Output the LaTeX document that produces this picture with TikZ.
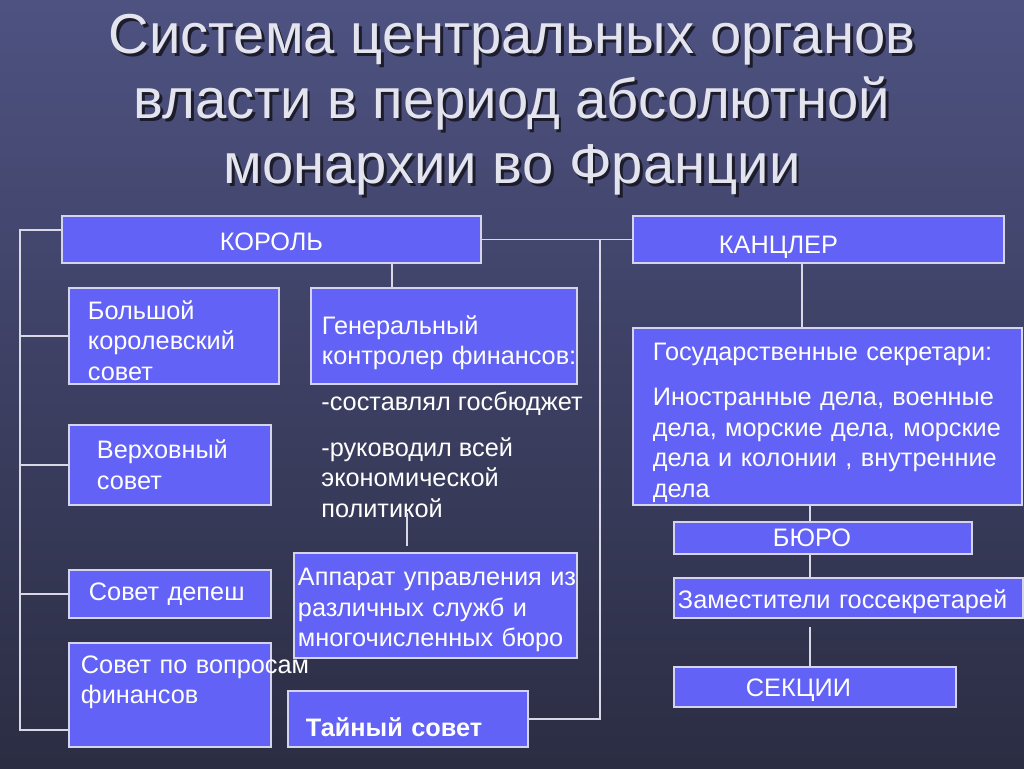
\documentclass[tikz,border=0pt]{standalone}
\usepackage{fontspec}
\setmainfont{Liberation Sans}
\definecolor{bgtop}{HTML}{4E5281}
\definecolor{bgbot}{HTML}{2B2D43}
\definecolor{boxblue}{HTML}{6262F6}
\definecolor{boxline}{HTML}{D4D4EC}
\definecolor{linkline}{HTML}{D8D8E6}
\definecolor{titletext}{HTML}{E4E4EE}
\definecolor{titleshade}{HTML}{1C1C2C}
\newcommand\shadowed[1]{\makebox[0pt][l]{\hspace{1.6pt}\raisebox{-1.6pt}{\color{titleshade}#1}}#1}
\newcommand\dropby[1]{\rule{0pt}{#1}}
\begin{document}
\begin{tikzpicture}[x=0.02cm,y=-0.02cm,
    boxsize/.code n args={3}{%
      \pgfmathsetlengthmacro\boxw{#1*0.02cm}%
      \pgfmathsetlengthmacro\boxh{#2*0.02cm}%
      \pgfmathsetlengthmacro\boxp{#3*0.02cm}%
      \pgfmathsetlengthmacro\boxt{(#1-2*#3)*0.02cm}%
      \edef\boxset{\noexpand\pgfkeysalso{minimum width=\boxw, minimum height=\boxh,
        inner xsep=\boxp, text width=\boxt}}%
      \boxset},
    organ/.style n args={3}{rectangle, draw=boxline, fill=boxblue, line width=1.1pt,
      text=white, anchor=north west, align=left, inner ysep=0pt,
      font=\fontsize{14.4}{17.5}\selectfont, boxsize={#1}{#2}{#3}},
    note/.style={text=white, anchor=north west, align=left, inner sep=0pt,
      font=\fontsize{14.4}{17.5}\selectfont},
    heading/.style={align=center, text=titletext, font=\fontsize{32}{37}\selectfont},
    link/.style={draw=linkline, line width=1.1pt}]
  \path[use as bounding box, top color=bgtop, bottom color=bgbot] (0,0) rectangle (1024,768);

  \node[heading] (title) at (512,106)
    {\shadowed{Система центральных органов}\\\shadowed{власти в период абсолютной}\\\shadowed{монархии во Франции}};

  \node[organ={419}{47}{0}, align=center] (korol) at (61,215) {\dropby{12.7pt}КОРОЛЬ};
  \node[organ={371}{47}{86}] (kancler) at (632,215) {\dropby{19.4pt}КАНЦЛЕР};
  \node[organ={210}{96}{19}] (bolshoy) at (68,287) {\dropby{16pt}Большой\\королевский\\совет};
  \node[organ={266}{96}{11}] (genkontr) at (310,287) {\dropby{18.4pt}Генеральный\\\mbox{контролер финансов:}};
  \node[organ={202}{80}{28}] (verkh) at (68,424) {Верховный\\совет};
  \node[organ={202}{48}{20}] (depesh) at (68,569) {Совет депеш};
  \node[organ={202}{104}{12}] (finans) at (68,642) {\mbox{Совет по вопросам}\\финансов\\ \mbox{}};
  \node[organ={240}{56}{18}, font=\bfseries\fontsize{14.4}{17.5}\selectfont] (tayny) at (287,690)
    {\dropby{20.6pt}Тайный совет};
  \node[organ={283}{105}{4}] (apparat) at (293,552)
    {\dropby{15pt}\mbox{Аппарат управления из}\\различных служб и\\\mbox{многочисленных бюро}};
  \node[organ={389}{177}{20}] (gossek) at (632,327)
    {\dropby{17.2pt}Государственные секретари:\\[8pt]\mbox{Иностранные дела, военные}\\\mbox{дела, морские дела, морские}\\\mbox{дела и колонии , внутренние}\\дела};
  \node[organ={298}{32}{99}] (buro) at (673,521) {БЮРО};
  \node[organ={349}{40}{4}] (zam) at (673,577) {\dropby{15pt}\mbox{Заместители госсекретарей}};
  \node[organ={282}{40}{72}] (sekcii) at (673,666) {\dropby{13.8pt}СЕКЦИИ};

  \node[note, anchor=west] (sostav) at (321,404) {-составлял госбюджет};
  \node[note] (rukovod) at (321,437) {-руководил всей\\экономической\\политикой};

  \coordinate (ltop) at (20,230);
  \coordinate (lbot) at (20,730);
  \coordinate (kx) at (392,0);
  \coordinate (rx) at (600,0);
  \coordinate (cx) at (802,0);
  \coordinate (bx) at (810,0);
  \coordinate (px) at (407,0);

  \draw[link] (korol.west |- ltop) -- (ltop) -- (lbot) -- (finans.west |- lbot);
  \draw[link] (ltop |- bolshoy.west) -- (bolshoy.west);
  \draw[link] (ltop |- verkh.west) -- (verkh.west);
  \draw[link] (ltop |- depesh.west) -- (depesh.west);
  \draw[link] (korol.south -| kx) -- (genkontr.north -| kx);
  \draw[link] (korol.east) -- (kancler.west);
  \draw[link] (korol.east -| rx) -- (tayny.east -| rx) -- (tayny.east);
  \draw[link, shorten <=-0.1cm, shorten >=0.12cm] (rukovod.south -| px) -- (apparat.north -| px);
  \draw[link] (kancler.south -| cx) -- (gossek.north -| cx);
  \draw[link] (gossek.south -| bx) -- (buro.north -| bx);
  \draw[link] (buro.south -| bx) -- (zam.north -| bx);
  \draw[link, shorten <=0.16cm] (zam.south -| bx) -- (sekcii.north -| bx);
\end{tikzpicture}
\end{document}
